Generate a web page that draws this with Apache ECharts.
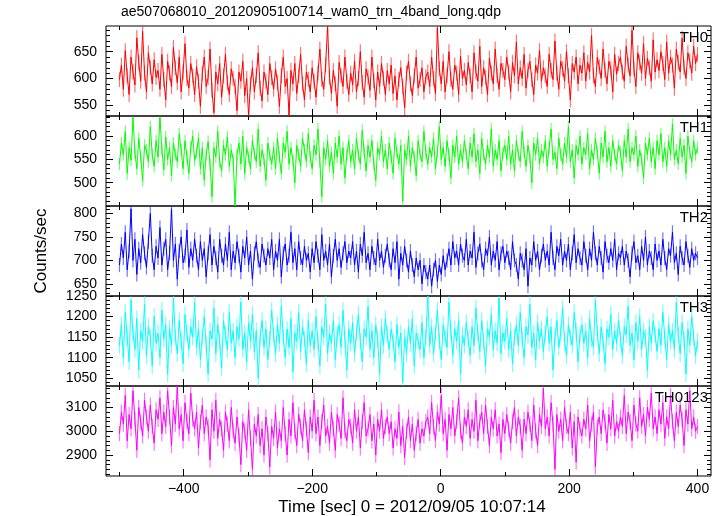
<!DOCTYPE html>
<html><head><meta charset="utf-8">
<script src="https://cdn.jsdelivr.net/npm/echarts@6/dist/echarts.min.js"></script>
<style>html,body{margin:0;padding:0;background:#fff}#c{width:724px;height:516px}</style>
</head><body><div id="c"></div><script>
const chartTitle = "ae507068010_20120905100714_wam0_trn_4band_long.qdp";
const yAxisTitle = "Counts/sec";
const xAxisTitle = "Time [sec] 0 = 2012/09/05 10:07:14";
const bandNames = ["TH0", "TH1", "TH2", "TH3", "TH0123"];
const bandColors = ["#ff0000", "#00ff00", "#0000ff", "#00ffff", "#ff00ff"];
const bandErrors = [14, 13, 15, 20, 32];
const timeStart = -500, timeEnd = 400;

const th0 = [
598,625,580,652,605,570,640,612,588,676,630,595,688,610,575,648,620,590,635,602,
615,580,645,598,560,632,610,585,658,620,592,640,575,612,665,600,582,628,605,570,
622,595,548,610,640,585,602,655,578,536,612,590,628,565,605,645,592,570,618,600,
585,540,612,595,632,568,600,530,590,620,575,605,648,582,558,612,595,570,628,602,
580,618,592,548,605,640,585,600,532,615,590,628,572,605,645,590,560,612,598,575,
620,595,565,610,655,598,580,625,698,602,572,615,590,548,630,605,585,640,595,570,
610,588,632,575,600,650,592,565,618,603,578,640,596,560,612,585,628,600,570,615,
590,625,572,605,560,598,620,585,545,610,632,590,568,605,640,582,598,620,575,603,
612,585,640,600,572,695,618,590,632,575,605,650,598,580,625,610,570,642,600,615,
588,630,605,575,648,612,595,660,585,620,602,570,638,610,590,655,605,580,628,615,
598,640,612,575,630,605,668,590,620,600,645,582,615,632,598,570,625,610,652,595,
620,605,585,645,615,598,670,610,580,632,618,595,650,605,560,628,612,640,590,625,
610,648,595,630,612,680,605,585,640,622,600,655,615,590,632,618,575,645,608,628,
640,612,595,660,625,605,690,618,585,648,630,610,665,600,638,620,595,672,612,635,
615,650,628,598,668,610,640,625,582,655,630,612,675,620,600,648,632,610,660,628,645];

const th1 = [
540,585,560,610,520,575,548,640,565,530,595,555,505,580,570,545,620,560,535,590,
555,640,570,528,598,550,575,515,585,560,545,605,570,530,590,555,520,575,600,548,
565,595,530,575,505,560,588,540,470,575,555,610,545,525,580,560,598,535,570,550,
450,560,585,540,600,520,575,555,530,590,562,545,615,535,570,550,505,585,560,540,
575,530,595,555,520,585,565,610,540,575,548,500,580,560,535,595,570,545,605,555,
530,580,560,615,545,470,575,550,590,535,565,520,585,555,600,540,575,510,560,590,
545,570,530,595,560,540,612,565,525,580,555,590,540,505,575,560,600,545,570,530,
585,555,520,595,565,540,580,460,570,550,600,535,575,555,515,590,560,545,610,565,
540,575,555,595,530,565,620,550,575,535,590,560,510,580,555,600,540,570,545,590,
560,530,585,555,605,545,570,520,595,560,540,580,555,615,535,570,550,590,525,565,
580,550,600,540,570,525,590,560,545,610,565,535,580,555,500,585,560,595,540,570,
555,590,535,575,615,550,565,530,595,560,540,585,555,620,545,570,510,580,560,600,
540,575,560,605,530,570,550,595,565,520,585,555,610,545,575,535,590,560,540,580,
565,525,590,555,615,545,575,560,600,535,570,550,510,585,560,595,545,575,530,590,
560,605,545,575,535,590,560,625,550,570,540,595,555,580,520,600,565,545,590,560,575];

const th2 = [
690,735,705,760,680,720,810,700,745,670,725,695,755,715,685,740,800,710,680,730,
705,770,690,725,745,680,715,810,700,735,660,720,750,695,710,765,685,725,700,745,
710,680,740,700,725,665,715,755,690,730,705,675,745,710,690,735,700,760,680,720,
695,740,710,675,730,705,750,690,720,660,715,740,700,685,735,710,690,725,705,745,
680,720,700,745,665,715,735,690,710,760,695,725,680,740,705,690,730,700,715,675,
725,695,740,710,680,755,700,720,690,735,665,710,745,700,725,685,715,740,695,720,
705,740,690,720,675,735,710,760,695,715,680,730,705,690,745,700,720,685,710,735,
700,680,725,695,740,660,715,690,730,700,675,720,690,665,705,680,700,650,690,675,
660,690,645,680,700,655,690,670,710,680,700,725,690,740,705,720,690,735,710,700,
745,690,720,705,760,685,715,735,700,680,725,710,750,690,720,700,740,680,715,730,
695,720,705,680,740,700,690,660,715,700,680,725,645,705,690,740,700,720,680,710,
735,700,720,690,760,705,680,730,710,745,690,720,700,735,680,715,755,695,725,705,
690,740,710,680,725,700,760,715,690,730,705,675,740,710,695,725,700,745,680,715,
705,730,690,720,700,665,715,740,695,710,680,730,700,750,690,720,705,680,735,700,
720,690,745,705,680,725,710,760,695,715,670,730,705,690,740,710,685,725,700,715,705];

const th3 = [
1130,1180,1100,1210,1150,1090,1240,1160,1120,1195,1070,1165,1140,1230,1105,1175,1150,1080,1200,1135,
1160,1100,1215,1145,1180,1060,1170,1130,1245,1150,1110,1190,1140,1085,1205,1160,1120,1175,1150,1235,
1125,1170,1095,1150,1200,1130,1060,1165,1145,1220,1110,1180,1140,1075,1190,1155,1120,1210,1135,1165,
1100,1175,1145,1235,1120,1160,1090,1185,1140,1205,1115,1165,1050,1150,1190,1125,1170,1095,1145,1215,
1155,1110,1180,1135,1225,1150,1100,1170,1125,1195,1065,1160,1140,1210,1115,1175,1145,1085,1190,1130,
1165,1120,1200,1140,1080,1175,1150,1230,1110,1160,1135,1190,1095,1155,1180,1125,1215,1145,1070,1170,
1135,1185,1110,1160,1205,1140,1090,1170,1150,1225,1120,1165,1100,1180,1145,1060,1175,1130,1195,1155,
1120,1170,1140,1090,1180,1125,1160,1040,1150,1110,1175,1135,1195,1080,1160,1140,1120,1185,1100,1150,
1250,1130,1175,1110,1160,1215,1140,1095,1180,1150,1125,1235,1165,1105,1170,1140,1190,1060,1155,1130,
1185,1145,1105,1175,1130,1220,1160,1115,1190,1140,1080,1170,1150,1205,1120,1165,1135,1245,1110,1160,
1140,1195,1120,1165,1085,1150,1180,1130,1210,1145,1100,1175,1155,1230,1125,1160,1095,1185,1140,1170,
1115,1160,1200,1135,1175,1070,1150,1190,1125,1160,1220,1140,1105,1180,1150,1130,1210,1165,1090,1155,
1180,1135,1165,1100,1195,1145,1125,1240,1160,1110,1175,1140,1085,1170,1150,1205,1120,1165,1135,1190,
1145,1105,1175,1155,1225,1130,1160,1095,1185,1140,1200,1120,1165,1150,1070,1175,1135,1190,1155,1115,
1170,1130,1210,1150,1095,1180,1140,1165,1120,1235,1155,1110,1185,1145,1060,1170,1130,1200,1150,1105,1140];

const th0123 = [
2990,3080,3030,3150,2960,3070,3010,3170,3050,2920,3100,3040,2980,3130,3060,3000,3110,3020,2950,3090,
3050,3140,2990,3080,3020,3170,3060,2940,3100,3030,3190,3010,3070,2960,3120,3040,2990,3160,3050,3010,
3080,2930,3040,3110,2990,3060,3020,2880,3090,3000,3130,2970,3050,3010,2920,3080,3030,2960,3100,3000,
2950,3060,2980,2860,3040,3000,2920,3090,2970,2840,3030,2980,3070,2940,3010,2900,3060,2990,2850,3020,
2970,3080,2930,3010,2960,3100,2990,2900,3050,2980,3120,3000,2940,3070,3020,2960,3090,3010,2910,3060,
3000,3130,2990,3060,2940,3040,3110,2980,3020,2950,3080,3010,2920,3070,3030,2970,3140,3000,2960,3050,
3020,2950,3090,3000,3060,2930,3040,3120,2980,3010,3070,2960,3030,2900,3050,3000,3090,2970,3020,3060,
2990,3040,2930,3010,2970,3080,2940,3020,2890,3000,3060,2960,3030,2920,2990,3050,2950,3010,2980,3040,
3060,2990,3120,3020,2960,3080,3030,3150,2990,3050,2920,3070,3010,3100,2980,3040,3140,3000,2950,3060,
3020,3090,2970,3050,3000,3130,2960,3040,3080,2990,3110,3020,2940,3060,3010,3090,2980,3030,2910,3050,
2990,3070,3010,2950,3040,3100,2980,3060,3020,2920,3050,2990,3080,3030,2960,3110,3000,2940,3070,3020,
3180,3010,3060,2980,3120,3030,2840,3070,3000,3050,2960,3100,3020,2990,3080,2930,3040,2870,3060,3010,
2980,3050,3010,3110,2960,3030,3080,2850,3020,3060,2990,3090,3040,2950,3070,3010,3130,2980,3040,3000,
3060,3020,3150,2990,3080,3040,2960,3110,3030,3000,3140,3020,3070,2980,3100,3050,3160,3010,3060,2990,
3090,3030,3120,2970,3060,3010,3150,3040,2960,3080,3020,3110,3050,2940,3090,3030,3170,3010,3060,3000,3020];

const bandValues = [th0, th1, th2, th3, th0123];
const yMins = [530, 450, 624, 1031, 2812];
const yMaxs = [698, 643, 816, 1250, 3190];
const yMajorTicks = [[550,600,650],[500,550,600],[650,700,750,800],[1050,1100,1150,1200,1250],[2900,3000,3100]];
const yMinorSteps = [10, 10, 10, 10, 20];
const xMin = -521, xMax = 421;
const xMajorTicks = [-400, -200, 0, 200, 400];
const xMinorTicks = [-500, -300, -100, 100, 300];

const FONT = "'Liberation Sans', Arial, Helvetica, sans-serif";
const L = { left: 106, right: 13, top: 26, h: 90 };

function minorList(min, max, step) {
  const out = [];
  for (let v = Math.ceil(min / step) * step; v <= max + 1e-9; v += step) out.push(v);
  return out;
}
const fmtMinus = v => String(v).replace('-', '\u2212');
const fmtPlain = v => String(v);

const grids = [], xAxes = [], yAxes = [], series = [], graphics = [];
for (let i = 0; i < 5; i++) {
  grids.push({ left: L.left, right: L.right, top: L.top + i * L.h, height: L.h,
    show: true, borderColor: '#000', borderWidth: 1, backgroundColor: 'transparent' });
  const mkX = (pos, ticks, len, labels) => ({
    type: 'value', gridIndex: i, min: xMin, max: xMax, position: pos,
    axisLine: { show: false, onZero: false }, splitLine: { show: false },
    axisTick: { show: true, inside: true, length: len, customValues: ticks, lineStyle: { color: '#000', width: 1 } },
    axisLabel: { show: labels, customValues: ticks, formatter: fmtMinus, color: '#000', fontSize: 14, fontFamily: FONT, margin: 6 }
  });
  xAxes.push(mkX('bottom', xMajorTicks, 7, i === 4));
  xAxes.push(mkX('bottom', xMinorTicks, 4, false));
  xAxes.push(mkX('top', xMajorTicks, 7, false));
  xAxes.push(mkX('top', xMinorTicks, 4, false));
  const minors = minorList(yMins[i], yMaxs[i], yMinorSteps[i]);
  const mkY = (pos, ticks, len, labels) => ({
    type: 'value', gridIndex: i, min: yMins[i], max: yMaxs[i], position: pos,
    axisLine: { show: false, onZero: false }, splitLine: { show: false },
    axisTick: { show: true, inside: true, length: len, customValues: ticks, lineStyle: { color: '#000', width: 1 } },
    axisLabel: { show: labels, customValues: ticks, formatter: fmtPlain, color: '#000', fontSize: 14, fontFamily: FONT, margin: 9 }
  });
  yAxes.push(mkY('left', yMajorTicks[i], 7, true));
  yAxes.push(mkY('left', minors, 4, false));
  yAxes.push(mkY('right', yMajorTicks[i], 7, false));
  yAxes.push(mkY('right', minors, 4, false));

  const vals = bandValues[i];
  const dt = (timeEnd - timeStart) / (vals.length - 1);
  const pts = vals.map((v, k) => [timeStart + k * dt, v]);
  const err = bandErrors[i];
  const col = bandColors[i];
  series.push({ type: 'custom', xAxisIndex: i * 4, yAxisIndex: i * 4, data: pts, silent: true, z: 1,
    clip: true,
    encode: { x: 0, y: 1 },
    renderItem: (params, api) => {
      const t = api.value(0), v = api.value(1);
      const p1 = api.coord([t, v - err]), p2 = api.coord([t, v + err]);
      return { type: 'line', shape: { x1: p1[0], y1: p1[1], x2: p2[0], y2: p2[1] },
        style: { stroke: col, lineWidth: 1.2, opacity: 0.55 } };
    } });
  series.push({ type: 'line', xAxisIndex: i * 4, yAxisIndex: i * 4, data: pts, showSymbol: false,
    silent: true, lineStyle: { color: col, width: 1 }, z: 2 });
  graphics.push({ type: 'text', right: 16, top: L.top + i * L.h + 4, z: 100,
    style: { text: bandNames[i], font: '15px ' + FONT, fill: '#000' } });
}
graphics.push({ type: 'text', left: 121, top: 5, style: { text: chartTitle, font: '14px ' + FONT, fill: '#000' } });
graphics.push({ type: 'text', x: 412, y: 507, style: { text: xAxisTitle, font: '17px ' + FONT, fill: '#000', textAlign: 'center', textVerticalAlign: 'middle' } });
graphics.push({ type: 'text', x: 41, y: 251, rotation: Math.PI / 2,
  style: { text: yAxisTitle, font: '17px ' + FONT, fill: '#000', textAlign: 'center', textVerticalAlign: 'middle' } });

const chart = echarts.init(document.getElementById('c'), null, { renderer: 'canvas' });
chart.setOption({ animation: false, backgroundColor: '#fff', grid: grids, xAxis: xAxes, yAxis: yAxes, series: series, graphic: graphics });
</script></body></html>
